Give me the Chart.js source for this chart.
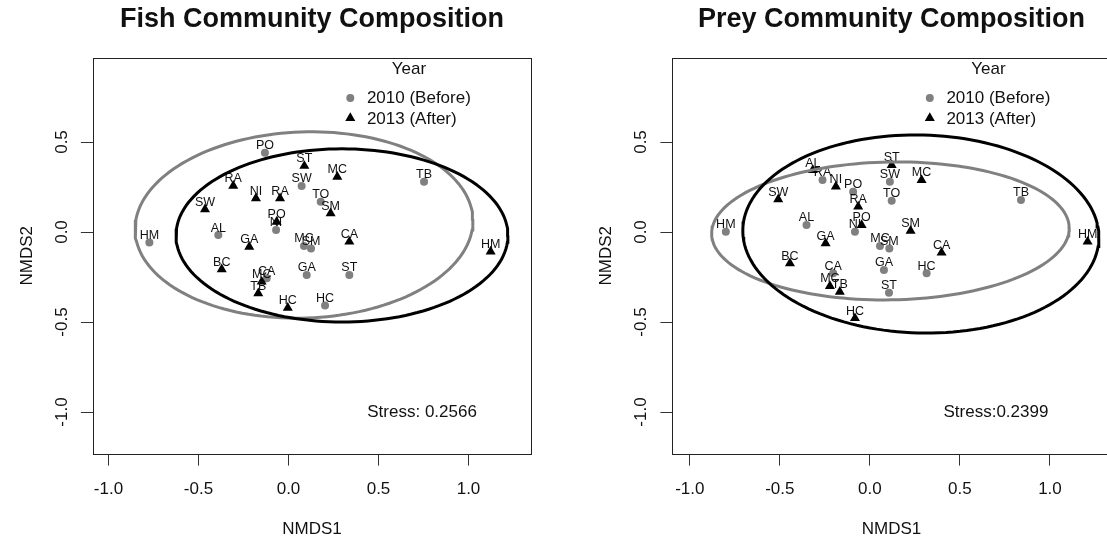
<!DOCTYPE html>
<html>
<head>
<meta charset="utf-8">
<script src="https://cdn.jsdelivr.net/npm/chart.js@4.4.1/dist/chart.umd.min.js"></script>
<style>
  html, body { margin: 0; padding: 0; background: #fff; overflow: hidden; }
  #wrap { position: relative; width: 1107px; height: 541px; overflow: hidden; }
  canvas { position: absolute; top: 0; }
  #fish { left: 0; }
  #prey { left: 560px; }
</style>
</head>
<body>
<div id="wrap">
  <canvas id="fish" width="553" height="541"></canvas>
  <canvas id="prey" width="560" height="541"></canvas>
</div>
<script>
// NMDS site scores, fish community
const fishLabels2010 = ['PO','SW','HM','AL','NI','MC','SM','GA','HC','ST','TO','TB','CA'];
const fishX2010 = [-0.131, 0.073, -0.773, -0.390, -0.069, 0.086, 0.125, 0.101, 0.203, 0.338, 0.179, 0.753, -0.121];
const fishY2010 = [0.441, 0.256, -0.059, -0.017, 0.011, -0.078, -0.091, -0.239, -0.409, -0.239, 0.168, 0.279, -0.257];

const fishLabels2013 = ['RA','NI','RA','SW','ST','MC','SM','CA','HM','GA','BC','HC','PO','MC','TB'];
const fishX2013 = [-0.307, -0.181, -0.047, -0.464, 0.088, 0.271, 0.234, 0.338, 1.123, -0.218, -0.371, -0.004, -0.066, -0.149, -0.168];
const fishY2013 = [0.256, 0.187, 0.187, 0.126, 0.367, 0.307, 0.104, -0.054, -0.109, -0.082, -0.207, -0.421, 0.057, -0.276, -0.341];

// NMDS site scores, prey community
const preyLabels2010 = ['HM','RA','PO','AL','NI','MC','SM','GA','ST','SW','TO','TB','HC','CA'];
const preyX2010 = [-0.800, -0.263, -0.093, -0.352, -0.083, 0.056, 0.108, 0.078, 0.106, 0.111, 0.121, 0.839, 0.315, -0.204];
const preyY2010 = [0.002, 0.289, 0.224, 0.039, 0.002, -0.078, -0.091, -0.211, -0.337, 0.279, 0.174, 0.178, -0.229, -0.229];

const preyLabels2013 = ['AL','NI','SW','RA','PO','GA','BC','MC','TB','HC','ST','MC','SM','CA','HM'];
const preyX2013 = [-0.317, -0.189, -0.509, -0.065, -0.046, -0.246, -0.444, -0.222, -0.167, -0.083, 0.121, 0.287, 0.226, 0.398, 1.209];
const preyY2013 = [0.344, 0.252, 0.182, 0.141, 0.039, -0.063, -0.174, -0.300, -0.332, -0.479, 0.372, 0.289, 0.007, -0.115, -0.054];

// group ellipses: [centre x, centre y, semi-axis a, semi-axis b, rotation in degrees]
const fishEllipse2010 = [0.086, 0.039, 0.939, 0.517, 2];
const fishEllipse2013 = [0.297, -0.019, 0.922, 0.481, 0];
const preyEllipse2010 = [0.114, 0.006, 0.993, 0.383, 1];
const preyEllipse2013 = [0.283, -0.011, 0.989, 0.550, -1.5];

// axis ticks
const xTicks = [-1, -0.5, 0, 0.5, 1];
const xTickLabels = ['-1.0', '-0.5', '0.0', '0.5', '1.0'];
const yTicks = [-1, -0.5, 0, 0.5];
const yTickLabels = ['-1.0', '-0.5', '0.0', '0.5'];

// stress annotation position (data units)
const fishStressPos = [0.742, -1.0];
const preyStressPos = [0.700, -1.0];

const FONT = '"Liberation Sans", Arial, Helvetica, sans-serif';
const GREY = '#808080';
const INK = '#111';

function zipPoints(xs, ys) {
  return xs.map((x, i) => ({ x: x, y: ys[i] }));
}

function ellipseOutline(e) {
  const [cx, cy, a, b, deg] = e;
  const th = deg * Math.PI / 180;
  const pts = [];
  const n = 160;
  for (let i = 0; i <= n; i++) {
    const t = 2 * Math.PI * i / n;
    const ex = a * Math.cos(t), ey = b * Math.sin(t);
    pts.push({ x: cx + ex * Math.cos(th) - ey * Math.sin(th),
               y: cy + ex * Math.sin(th) + ey * Math.cos(th) });
  }
  return pts;
}

function drawTriangle(ctx, x, y, r) {
  ctx.beginPath();
  let rad = 0;
  ctx.moveTo(x + Math.sin(rad) * r, y - Math.cos(rad) * r);
  rad += 2 * Math.PI / 3;
  ctx.lineTo(x + Math.sin(rad) * r, y - Math.cos(rad) * r);
  rad += 2 * Math.PI / 3;
  ctx.lineTo(x + Math.sin(rad) * r, y - Math.cos(rad) * r);
  ctx.closePath();
  ctx.fill();
}

// annotations: site labels, frame, titles, legend, stress
const ordinationPlugin = {
  id: 'ordination',
  afterDatasetDraw(chart, args) {
    const ds = chart.data.datasets[args.index];
    if (!ds.siteLabels) return;
    const ctx = chart.ctx;
    const meta = chart.getDatasetMeta(args.index);
    ctx.save();
    ctx.font = '12.5px ' + FONT;
    ctx.fillStyle = INK;
    ctx.textAlign = 'center';
    ctx.textBaseline = 'middle';
    meta.data.forEach((el, i) => {
      ctx.fillText(ds.siteLabels[i], el.x, el.y - 7);
    });
    ctx.restore();
  },
  afterDraw(chart, args, opts) {
    const ctx = chart.ctx;
    const ca = chart.chartArea;
    const xs = chart.scales.x, ys = chart.scales.y;
    const midX = (ca.left + ca.right) / 2;
    const midY = (ca.top + ca.bottom) / 2;
    ctx.save();
    // frame
    ctx.strokeStyle = '#222';
    ctx.lineWidth = 1;
    ctx.strokeRect(Math.round(ca.left) + 0.5, Math.round(ca.top) + 0.5,
                   Math.round(ca.right - ca.left), Math.round(ca.bottom - ca.top));
    ctx.fillStyle = INK;
    // title
    ctx.font = 'bold 27px ' + FONT;
    ctx.textAlign = 'center';
    ctx.textBaseline = 'middle';
    ctx.fillText(opts.title, midX, 20);
    // x axis title
    ctx.font = '17px ' + FONT;
    ctx.fillText('NMDS1', midX, 529);
    // y tick labels and title, rotated
    yTicks.forEach((v, i) => {
      const py = ys.getPixelForValue(v);
      ctx.save();
      ctx.translate(ca.left - 31, py);
      ctx.rotate(-Math.PI / 2);
      ctx.fillText(yTickLabels[i], 0, 0);
      ctx.restore();
    });
    ctx.save();
    ctx.translate(ca.left - 66, midY);
    ctx.rotate(-Math.PI / 2);
    ctx.fillText('NMDS2', 0, 0);
    ctx.restore();
    // legend
    ctx.fillText('Year', ca.left + 316, 69);
    ctx.textAlign = 'left';
    ctx.fillText('2010 (Before)', ca.left + 274, 98);
    ctx.fillText('2013 (After)', ca.left + 274, 119);
    ctx.fillStyle = GREY;
    ctx.beginPath();
    ctx.arc(ca.left + 257.4, 98, 4, 0, 2 * Math.PI);
    ctx.fill();
    ctx.fillStyle = '#000';
    drawTriangle(ctx, ca.left + 257.4, 118, 5.8);
    // stress
    ctx.fillStyle = INK;
    ctx.textAlign = 'center';
    ctx.fillText(opts.stress, xs.getPixelForValue(opts.stressPos[0]), ys.getPixelForValue(opts.stressPos[1]));
    ctx.restore();
  }
};

function makeChart(id, cfg) {
  const tickFont = { family: FONT, size: 17 };
  return new Chart(document.getElementById(id), {
    type: 'scatter',
    data: {
      datasets: [
        { label: '2013 ellipse', data: ellipseOutline(cfg.ell2013), showLine: true,
          pointRadius: 0, borderColor: '#000', borderWidth: 3, fill: false, tension: 0 },
        { label: '2010 ellipse', data: ellipseOutline(cfg.ell2010), showLine: true,
          pointRadius: 0, borderColor: GREY, borderWidth: 3, fill: false, tension: 0 },
        { label: '2013 (After)', data: zipPoints(cfg.x2013, cfg.y2013), siteLabels: cfg.lab2013,
          pointStyle: 'triangle', pointRadius: 5.8, backgroundColor: '#000', borderColor: '#000', borderWidth: 0 },
        { label: '2010 (Before)', data: zipPoints(cfg.x2010, cfg.y2010), siteLabels: cfg.lab2010,
          pointStyle: 'circle', pointRadius: 4, backgroundColor: GREY, borderColor: GREY, borderWidth: 0 }
      ]
    },
    options: {
      responsive: false,
      animation: false,
      devicePixelRatio: 1,
      events: [],
      layout: { padding: { top: 58, right: cfg.padRight, bottom: 0, left: 0 } },
      plugins: {
        legend: { display: false },
        tooltip: { enabled: false },
        ordination: { title: cfg.title, stress: cfg.stress, stressPos: cfg.stressPos }
      },
      scales: {
        x: {
          type: 'linear', min: cfg.xMin, max: cfg.xMax,
          afterBuildTicks: s => { s.ticks = xTicks.map(v => ({ value: v })); },
          afterFit: s => { s.height = 87.4; },
          ticks: { font: tickFont, color: INK, padding: 14, maxRotation: 0,
                   callback: (v, i) => xTickLabels[i] },
          grid: { drawOnChartArea: false, drawTicks: true, tickLength: 12, color: '#333', lineWidth: 1 },
          border: { display: false }
        },
        y: {
          type: 'linear', min: -1.2311, max: 0.9667,
          afterBuildTicks: s => { s.ticks = yTicks.map(v => ({ value: v })); },
          afterFit: s => { s.width = cfg.leftW; },
          ticks: { display: false },
          grid: { drawOnChartArea: false, drawTicks: true, tickLength: 12, color: '#333', lineWidth: 1 },
          border: { display: false }
        }
      }
    },
    plugins: [ordinationPlugin]
  });
}

makeChart('fish', {
  title: 'Fish Community Composition', stress: 'Stress: 0.2566', stressPos: fishStressPos,
  lab2010: fishLabels2010, x2010: fishX2010, y2010: fishY2010,
  lab2013: fishLabels2013, x2013: fishX2013, y2013: fishY2013,
  ell2010: fishEllipse2010, ell2013: fishEllipse2013,
  xMin: -1.0867, xMax: 1.3472, leftW: 92.9, padRight: 22
});

makeChart('prey', {
  title: 'Prey Community Composition', stress: 'Stress:0.2399', stressPos: preyStressPos,
  lab2010: preyLabels2010, x2010: preyX2010, y2010: preyY2010,
  lab2013: preyLabels2013, x2013: preyX2013, y2013: preyY2013,
  ell2010: preyEllipse2010, ell2013: preyEllipse2013,
  xMin: -1.0967, xMax: 1.3361, leftW: 112.4, padRight: 9.5
});
</script>
</body>
</html>
